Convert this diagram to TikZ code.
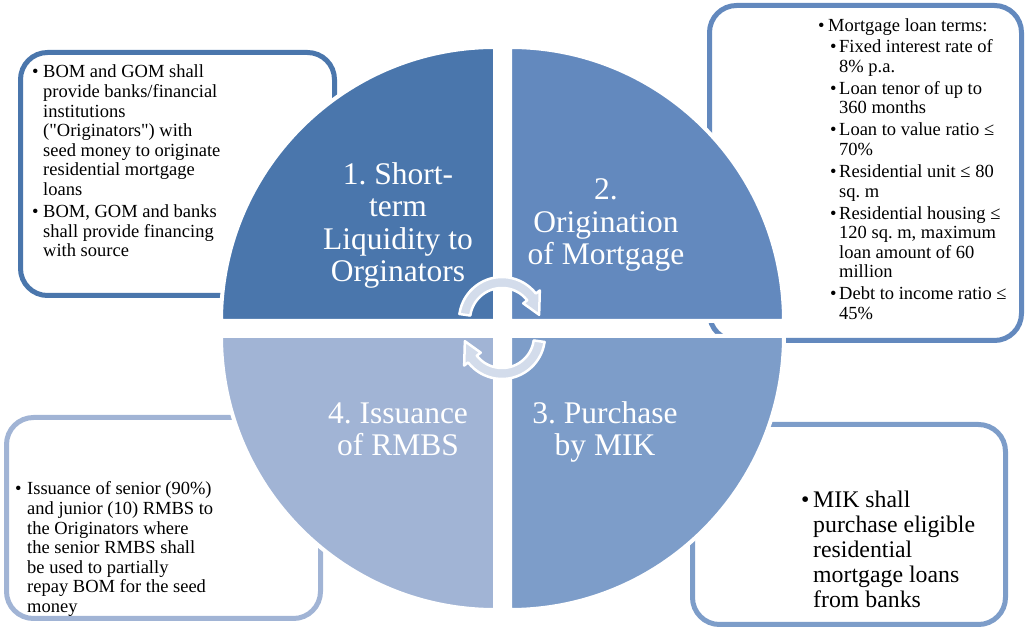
\documentclass[tikz,border=0pt]{standalone}
\usepackage{fontspec}
\setmainfont{Liberation Serif}
\usepackage{xcolor}
\definecolor{quadone}{HTML}{4A76AC}
\definecolor{quadtwo}{HTML}{6389BE}
\definecolor{quadthree}{HTML}{7D9DC9}
\definecolor{quadfour}{HTML}{A1B4D5}
\definecolor{arrowfill}{HTML}{D3DCEB}
\frenchspacing

\begin{document}
\begin{tikzpicture}[x=1pt,y=1pt,
	infobox/.style={draw=#1,line width=5pt,fill=white,rounded corners=27pt},
	quad/.style={fill=#1,draw=white,line width=4pt,line join=miter},
	quadtext/.style={anchor=base,align=center,text=white,inner sep=0pt,
		font=\fontsize{31.5}{32.5}\selectfont},
	boxtext/.style={anchor=base west,inner sep=0pt,
		font=\fontsize{18.5}{19.6}\selectfont},
	cyclearrow/.style={fill=arrowfill,draw=white,line width=2.5pt,line join=round}]
		\useasboundingbox (0,0) rectangle (1026,629);
		%
		% text boxes behind the circle
		\draw[infobox=quadone] (20.5,333.5) rectangle (334.5,576.5);
		\draw[infobox=quadtwo] (709.5,288.5) rectangle (1021.5,623.5);
		\draw[infobox=quadfour] (6.5,10.5) rectangle (320.5,211.5);
		\draw[infobox=quadthree] (692.5,4.5) rectangle (1005.5,204.5);
		%
		% quadrants
		\filldraw[quad=quadone] (495,308) -- (221,308) arc[start angle=180,end angle=90,radius=274] -- cycle;
		\filldraw[quad=quadtwo] (510,308) -- (510,582) arc[start angle=90,end angle=0,radius=274] -- cycle;
		\filldraw[quad=quadthree] (510,293) -- (784,293) arc[start angle=0,end angle=-90,radius=274] -- cycle;
		\filldraw[quad=quadfour] (495,293) -- (495,19) arc[start angle=270,end angle=180,radius=274] -- cycle;
		%
		% base = last line
		\node[quadtext] (Q1) at (398,347) {1. Short-\\term\\Liquidity to\\Orginators};
		\node[quadtext] (Q2) at (606,364) {2.\\Origination\\of Mortgage};
		\node[quadtext] (Q3) at (605,173) {3. Purchase\\by MIK};
		\node[quadtext] (Q4) at (398,173) {4. Issuance\\of RMBS};
		%
		% cycle arrows
		\coordinate (up) at (502,309);
		\coordinate (down) at (502,293);
		\foreach \c/\a/\b/\t in {up/172/38/8, down/-8/-142/-172}
		\filldraw[cyclearrow] ([shift={(\a:43)}]\c) arc[start angle=\a,end angle=\b,radius=43]
			-- ([shift={(\b:48)}]\c) -- ([shift={(\t:37.5)}]\c) -- ([shift={(\b:27)}]\c)
			-- ([shift={(\b:32)}]\c) arc[start angle=\b,end angle=\a,radius=32] -- cycle;
		%
		% box texts
		\node[boxtext] (T1) at (32,551) {\begin{tabular}[t]{@{}p{11pt}@{}l@{}}
			\textbullet & BOM and GOM shall\\
			& provide banks/financial\\
			& institutions\\
			& (\textquotedbl Originators\textquotedbl) with\\
			& seed money to originate\\
			& residential mortgage\\
			& loans\\[2.4pt]
			\textbullet & BOM, GOM and banks\\
			& shall provide financing\\
			& with source
		\end{tabular}};
		\node[boxtext] (T2) at (818,597) {\begin{tabular}[t]{@{}p{10pt}@{}p{11pt}@{}l@{}}
			\textbullet & \multicolumn{2}{@{}l@{}}{Mortgage loan terms:}\\[1.2pt]
			& \hspace{2pt}\textbullet & Fixed interest rate of\\
			& & 8\% p.a.\\[2.4pt]
			& \hspace{2pt}\textbullet & Loan tenor of up to\\
			& & 360 months\\[2.4pt]
			& \hspace{2pt}\textbullet & Loan to value ratio ≤\\
			& & 70\%\\[2.4pt]
			& \hspace{2pt}\textbullet & Residential unit ≤ 80\\
			& & sq. m\\[2.4pt]
			& \hspace{2pt}\textbullet & Residential housing ≤\\
			& & 120 sq. m, maximum\\
			& & loan amount of 60\\
			& & million\\[2.4pt]
			& \hspace{2pt}\textbullet & Debt to income ratio ≤\\
			& & 45\%
		\end{tabular}};
		\node[boxtext] (T3) at (15,134) {\begin{tabular}[t]{@{}p{12pt}@{}l@{}}
			\textbullet & Issuance of senior (90\%)\\
			& and junior (10) RMBS to\\
			& the Originators where\\
			& the senior RMBS shall\\
			& be used to partially\\
			& repay BOM for the seed\\
			& money
		\end{tabular}};
		\node[boxtext,font=\fontsize{23.8}{24.8}\selectfont] (T4) at (801,121) {\begin{tabular}[t]{@{}p{12pt}@{}l@{}}
			\textbullet & MIK shall\\
			& purchase eligible\\
			& residential\\
			& mortgage loans\\
			& from banks
		\end{tabular}};
\end{tikzpicture}
\end{document}
